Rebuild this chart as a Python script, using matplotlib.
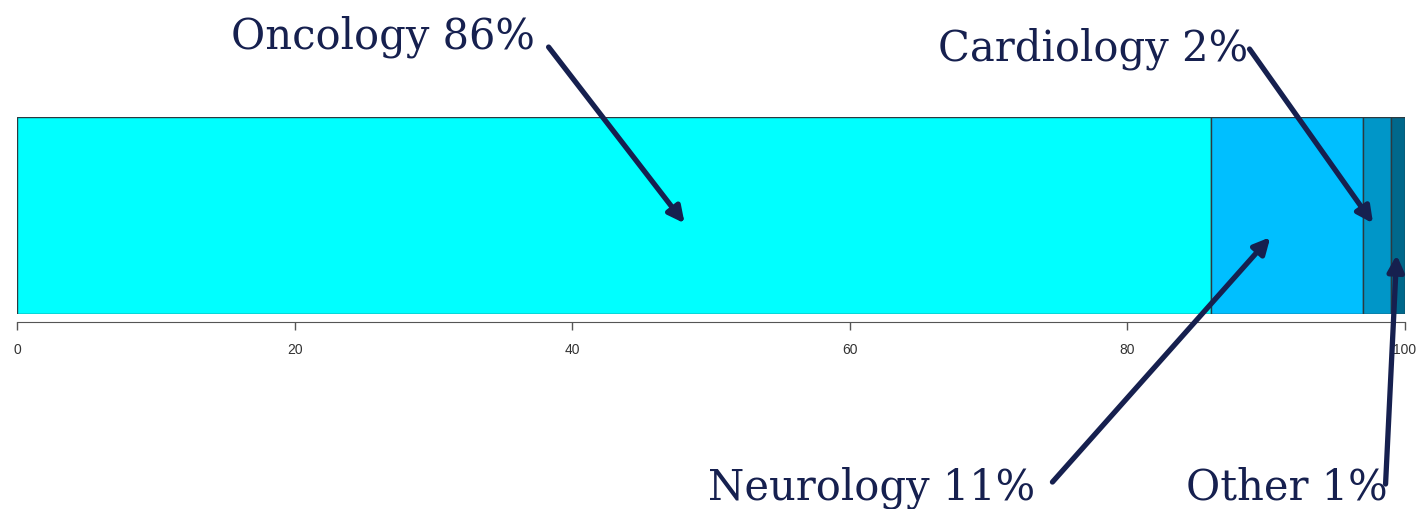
import matplotlib
matplotlib.use("Agg")
import matplotlib.pyplot as plt

# share of the total, stacked left to right
areas = ["Oncology", "Neurology", "Cardiology", "Other"]
shares = [86, 11, 2, 1]
colors = ["#00FFFF", "#00BFFF", "#0096C8", "#00688B"]

ticks = [0, 20, 40, 60, 80, 100]

navy = "#16204F"

fig = plt.figure(figsize=(14.17, 5.10), dpi=100)
ax = fig.add_axes([17 / 1417, 1 - 315 / 510, 1388 / 1417, 197 / 510])

left = 0
for name, val, col in zip(areas, shares, colors):
    ax.barh(0.5, val, height=1.0, left=left, color=col,
            edgecolor="#2b3a40", linewidth=1.0)
    left += val

ax.set_xlim(0, 100)
ax.set_ylim(0, 1)
ax.set_yticks([])
for s in ["top", "left", "right"]:
    ax.spines[s].set_visible(False)
ax.spines["bottom"].set_position(("outward", 5.5))
ax.spines["bottom"].set_bounds(0, 100)
ax.spines["bottom"].set_color("#555555")
ax.set_xticks(ticks)
ax.set_xticklabels([str(t) for t in ticks], fontsize=10, family="Liberation Sans")
ax.tick_params(axis="x", length=6, width=1, colors="#555555", labelcolor="#333333", pad=9)

# labels and arrows: (text, text x, baseline y, arrow tail, arrow tip)
notes = [
    ("Oncology 86%", 26.4, 1.355, (38.3, 1.355), (48.1, 0.46)),
    ("Cardiology 2%", 77.5, 1.294, (88.8, 1.345), (97.7, 0.46)),
    ("Neurology 11%", 61.6, -0.939, (74.6, -0.853), (90.3, 0.39)),
    ("Other 1%", 91.5, -0.939, (98.6, -0.863), (99.4, 0.30)),
]
for text, tx, ty, tail, tip in notes:
    ax.text(tx, ty, text, fontsize=30, family="DejaVu Serif", color=navy,
            ha="center", va="baseline", clip_on=False)
    ax.annotate("", xy=tip, xytext=tail,
                arrowprops=dict(arrowstyle="-|>", color=navy, lw=3.8,
                                mutation_scale=24, shrinkA=0, shrinkB=0),
                annotation_clip=False)

fig.savefig("out.png", dpi=100)
